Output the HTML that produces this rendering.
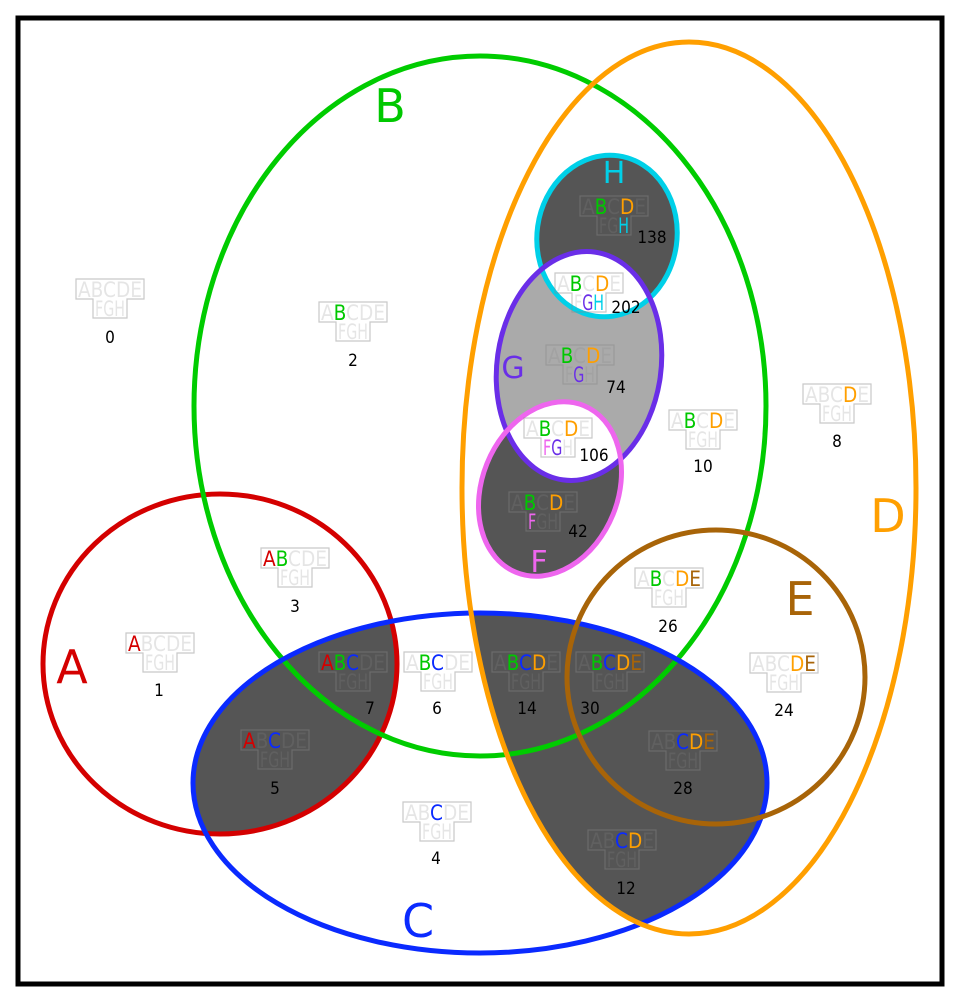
<!DOCTYPE html>
<html><head><meta charset="utf-8"><style>
html,body{margin:0;padding:0;background:#fff}
svg{display:block}
.l text{font-family:"DejaVu Sans Condensed","Liberation Sans Narrow","Liberation Sans",sans-serif;font-size:21px;fill:#888;fill-opacity:.22}
.l path{fill:none;stroke:#888;stroke-opacity:.45;stroke-width:1.2}
.l tspan.a{fill:#d40000;fill-opacity:1}
.l tspan.b{fill:#00c800;fill-opacity:1}
.l tspan.c{fill:#0a2aff;fill-opacity:1}
.l tspan.d{fill:#ff9f00;fill-opacity:1}
.l tspan.e{fill:#a86408;fill-opacity:1}
.l tspan.f{fill:#ee66ee;fill-opacity:1}
.l tspan.g{fill:#6a2ee8;fill-opacity:1}
.l tspan.h{fill:#00d0e8;fill-opacity:1}
.n{font-family:"DejaVu Sans Condensed","Liberation Sans Narrow","Liberation Sans",sans-serif;font-size:17px;fill:#000;text-anchor:middle}
.s{font-family:"DejaVu Sans","Liberation Sans",sans-serif;text-anchor:middle}
</style></head><body>
<svg width="960" height="1004" viewBox="0 0 960 1004" xmlns="http://www.w3.org/2000/svg">
<defs>
<clipPath id="cC"><ellipse cx="480" cy="783" rx="287" ry="170"/></clipPath>
<clipPath id="cG"><ellipse cx="579" cy="366" rx="82" ry="115" transform="rotate(8 579 366)"/></clipPath>
<clipPath id="cF"><ellipse cx="550" cy="489" rx="68" ry="90" transform="rotate(22 550 489)"/></clipPath>
</defs>
<rect x="18" y="18" width="924" height="966" fill="#fff" stroke="#000" stroke-width="5"/>
<g clip-path="url(#cC)" fill="#555">
<ellipse cx="220" cy="664" rx="177" ry="170"/>
<ellipse cx="689" cy="488" rx="227" ry="446"/>
</g>
<ellipse cx="579" cy="366" rx="82" ry="115" transform="rotate(8 579 366)" fill="#aaa"/>
<ellipse cx="607" cy="236" rx="70" ry="81" transform="rotate(8 607 236)" fill="#555"/>
<g clip-path="url(#cG)"><ellipse cx="607" cy="236" rx="70" ry="81" transform="rotate(8 607 236)" fill="#fff"/></g>
<ellipse cx="550" cy="489" rx="68" ry="90" transform="rotate(22 550 489)" fill="#555"/>
<g clip-path="url(#cF)"><ellipse cx="579" cy="366" rx="82" ry="115" transform="rotate(8 579 366)" fill="#fff"/></g>
<g fill="none" stroke-width="5">
<ellipse cx="220" cy="664" rx="177" ry="170" stroke="#d40000"/>
<ellipse cx="480" cy="406" rx="286" ry="350" stroke="#00cc00"/>
<ellipse cx="480" cy="783" rx="287" ry="170" stroke="#0a2aff"/>
<ellipse cx="689" cy="488" rx="227" ry="446" stroke="#ff9f00"/>
<ellipse cx="716" cy="677" rx="149" ry="147" stroke="#a86408"/>
<ellipse cx="607" cy="236" rx="70" ry="81" transform="rotate(8 607 236)" stroke="#00d0e8"/>
<ellipse cx="579" cy="366" rx="82" ry="115" transform="rotate(8 579 366)" stroke="#6a2ee8"/>
<ellipse cx="550" cy="489" rx="68" ry="90" transform="rotate(22 550 489)" stroke="#ee66ee"/>
</g>
<text class="s" x="72" y="683" font-size="46" fill="#d40000">A</text>
<text class="s" x="390" y="122" font-size="46" fill="#00c800">B</text>
<text class="s" x="418" y="937" font-size="46" fill="#0a2aff">C</text>
<text class="s" x="888" y="532" font-size="46" fill="#ff9f00">D</text>
<text class="s" x="800" y="615" font-size="46" fill="#a86408">E</text>
<text class="s" x="539" y="572" font-size="30" fill="#ee66ee">F</text>
<text class="s" x="513" y="378" font-size="30" fill="#6a2ee8">G</text>
<text class="s" x="614" y="183" font-size="30" fill="#00d0e8">H</text>
<g class="l">
<g transform="translate(110,279)"><path d="M-34 0H34V20H17V39H-17V20H-34Z"/><text x="-32" y="18" textLength="64" lengthAdjust="spacingAndGlyphs">ABCDE</text><text x="-15" y="37" textLength="30" lengthAdjust="spacingAndGlyphs">FGH</text></g>
<g transform="translate(353,302)"><path d="M-34 0H34V20H17V39H-17V20H-34Z"/><text x="-32" y="18" textLength="64" lengthAdjust="spacingAndGlyphs">A<tspan class="b">B</tspan>CDE</text><text x="-15" y="37" textLength="30" lengthAdjust="spacingAndGlyphs">FGH</text></g>
<g transform="translate(160,633)"><path d="M-34 0H34V20H17V39H-17V20H-34Z"/><text x="-32" y="18" textLength="64" lengthAdjust="spacingAndGlyphs"><tspan class="a">A</tspan>BCDE</text><text x="-15" y="37" textLength="30" lengthAdjust="spacingAndGlyphs">FGH</text></g>
<g transform="translate(295,548)"><path d="M-34 0H34V20H17V39H-17V20H-34Z"/><text x="-32" y="18" textLength="64" lengthAdjust="spacingAndGlyphs"><tspan class="a">A</tspan><tspan class="b">B</tspan>CDE</text><text x="-15" y="37" textLength="30" lengthAdjust="spacingAndGlyphs">FGH</text></g>
<g transform="translate(353,652)"><path d="M-34 0H34V20H17V39H-17V20H-34Z"/><text x="-32" y="18" textLength="64" lengthAdjust="spacingAndGlyphs"><tspan class="a">A</tspan><tspan class="b">B</tspan><tspan class="c">C</tspan>DE</text><text x="-15" y="37" textLength="30" lengthAdjust="spacingAndGlyphs">FGH</text></g>
<g transform="translate(438,652)"><path d="M-34 0H34V20H17V39H-17V20H-34Z"/><text x="-32" y="18" textLength="64" lengthAdjust="spacingAndGlyphs">A<tspan class="b">B</tspan><tspan class="c">C</tspan>DE</text><text x="-15" y="37" textLength="30" lengthAdjust="spacingAndGlyphs">FGH</text></g>
<g transform="translate(275,730)"><path d="M-34 0H34V20H17V39H-17V20H-34Z"/><text x="-32" y="18" textLength="64" lengthAdjust="spacingAndGlyphs"><tspan class="a">A</tspan>B<tspan class="c">C</tspan>DE</text><text x="-15" y="37" textLength="30" lengthAdjust="spacingAndGlyphs">FGH</text></g>
<g transform="translate(437,802)"><path d="M-34 0H34V20H17V39H-17V20H-34Z"/><text x="-32" y="18" textLength="64" lengthAdjust="spacingAndGlyphs">AB<tspan class="c">C</tspan>DE</text><text x="-15" y="37" textLength="30" lengthAdjust="spacingAndGlyphs">FGH</text></g>
<g transform="translate(526,652)"><path d="M-34 0H34V20H17V39H-17V20H-34Z"/><text x="-32" y="18" textLength="64" lengthAdjust="spacingAndGlyphs">A<tspan class="b">B</tspan><tspan class="c">C</tspan><tspan class="d">D</tspan>E</text><text x="-15" y="37" textLength="30" lengthAdjust="spacingAndGlyphs">FGH</text></g>
<g transform="translate(610,652)"><path d="M-34 0H34V20H17V39H-17V20H-34Z"/><text x="-32" y="18" textLength="64" lengthAdjust="spacingAndGlyphs">A<tspan class="b">B</tspan><tspan class="c">C</tspan><tspan class="d">D</tspan><tspan class="e">E</tspan></text><text x="-15" y="37" textLength="30" lengthAdjust="spacingAndGlyphs">FGH</text></g>
<g transform="translate(683,731)"><path d="M-34 0H34V20H17V39H-17V20H-34Z"/><text x="-32" y="18" textLength="64" lengthAdjust="spacingAndGlyphs">AB<tspan class="c">C</tspan><tspan class="d">D</tspan><tspan class="e">E</tspan></text><text x="-15" y="37" textLength="30" lengthAdjust="spacingAndGlyphs">FGH</text></g>
<g transform="translate(622,830)"><path d="M-34 0H34V20H17V39H-17V20H-34Z"/><text x="-32" y="18" textLength="64" lengthAdjust="spacingAndGlyphs">AB<tspan class="c">C</tspan><tspan class="d">D</tspan>E</text><text x="-15" y="37" textLength="30" lengthAdjust="spacingAndGlyphs">FGH</text></g>
<g transform="translate(669,568)"><path d="M-34 0H34V20H17V39H-17V20H-34Z"/><text x="-32" y="18" textLength="64" lengthAdjust="spacingAndGlyphs">A<tspan class="b">B</tspan>C<tspan class="d">D</tspan><tspan class="e">E</tspan></text><text x="-15" y="37" textLength="30" lengthAdjust="spacingAndGlyphs">FGH</text></g>
<g transform="translate(784,653)"><path d="M-34 0H34V20H17V39H-17V20H-34Z"/><text x="-32" y="18" textLength="64" lengthAdjust="spacingAndGlyphs">ABC<tspan class="d">D</tspan><tspan class="e">E</tspan></text><text x="-15" y="37" textLength="30" lengthAdjust="spacingAndGlyphs">FGH</text></g>
<g transform="translate(703,410)"><path d="M-34 0H34V20H17V39H-17V20H-34Z"/><text x="-32" y="18" textLength="64" lengthAdjust="spacingAndGlyphs">A<tspan class="b">B</tspan>C<tspan class="d">D</tspan>E</text><text x="-15" y="37" textLength="30" lengthAdjust="spacingAndGlyphs">FGH</text></g>
<g transform="translate(837,384)"><path d="M-34 0H34V20H17V39H-17V20H-34Z"/><text x="-32" y="18" textLength="64" lengthAdjust="spacingAndGlyphs">ABC<tspan class="d">D</tspan>E</text><text x="-15" y="37" textLength="30" lengthAdjust="spacingAndGlyphs">FGH</text></g>
<g transform="translate(614,196)"><path d="M-34 0H34V20H17V39H-17V20H-34Z"/><text x="-32" y="18" textLength="64" lengthAdjust="spacingAndGlyphs">A<tspan class="b">B</tspan>C<tspan class="d">D</tspan>E</text><text x="-15" y="37" textLength="30" lengthAdjust="spacingAndGlyphs">FG<tspan class="h">H</tspan></text></g>
<g transform="translate(589,273)"><path d="M-34 0H34V20H17V39H-17V20H-34Z"/><text x="-32" y="18" textLength="64" lengthAdjust="spacingAndGlyphs">A<tspan class="b">B</tspan>C<tspan class="d">D</tspan>E</text><text x="-15" y="37" textLength="30" lengthAdjust="spacingAndGlyphs">F<tspan class="g">G</tspan><tspan class="h">H</tspan></text></g>
<g transform="translate(580,345)"><path d="M-34 0H34V20H17V39H-17V20H-34Z"/><text x="-32" y="18" textLength="64" lengthAdjust="spacingAndGlyphs">A<tspan class="b">B</tspan>C<tspan class="d">D</tspan>E</text><text x="-15" y="37" textLength="30" lengthAdjust="spacingAndGlyphs">F<tspan class="g">G</tspan>H</text></g>
<g transform="translate(558,418)"><path d="M-34 0H34V20H17V39H-17V20H-34Z"/><text x="-32" y="18" textLength="64" lengthAdjust="spacingAndGlyphs">A<tspan class="b">B</tspan>C<tspan class="d">D</tspan>E</text><text x="-15" y="37" textLength="30" lengthAdjust="spacingAndGlyphs"><tspan class="f">F</tspan><tspan class="g">G</tspan>H</text></g>
<g transform="translate(543,492)"><path d="M-34 0H34V20H17V39H-17V20H-34Z"/><text x="-32" y="18" textLength="64" lengthAdjust="spacingAndGlyphs">A<tspan class="b">B</tspan>C<tspan class="d">D</tspan>E</text><text x="-15" y="37" textLength="30" lengthAdjust="spacingAndGlyphs"><tspan class="f">F</tspan>GH</text></g>
</g>
<g class="n">
<text x="110" y="343">0</text><text x="353" y="366">2</text><text x="159" y="696">1</text>
<text x="295" y="612">3</text><text x="370" y="714">7</text><text x="437" y="714">6</text>
<text x="275" y="794">5</text><text x="436" y="864">4</text><text x="527" y="714">14</text>
<text x="590" y="714">30</text><text x="683" y="794">28</text><text x="626" y="894">12</text>
<text x="668" y="632">26</text><text x="784" y="716">24</text><text x="703" y="472">10</text>
<text x="837" y="447">8</text><text x="652" y="243">138</text><text x="626" y="313">202</text>
<text x="616" y="393">74</text><text x="594" y="461">106</text><text x="578" y="537">42</text>
</g>
</svg>
</body></html>
